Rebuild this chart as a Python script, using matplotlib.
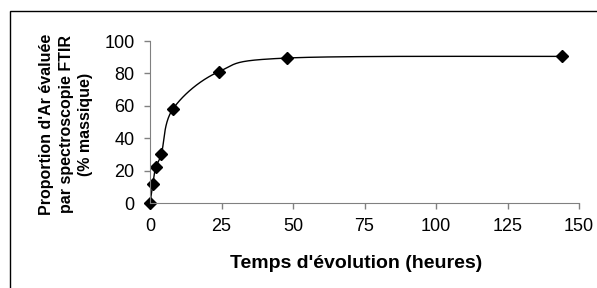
import numpy as np
import matplotlib
matplotlib.use("Agg")
import matplotlib.pyplot as plt
from matplotlib.patches import Rectangle

# temps d'évolution (heures) et proportion d'Ar (% massique)
temps = [0, 1, 2, 4, 8, 24, 48, 144]
proportion = [0, 12, 22, 30.5, 58, 81, 89.5, 90.5]

x_ticks = [0, 25, 50, 75, 100, 125, 150]
y_ticks = [0, 20, 40, 60, 80, 100]


def lissage(x, y, n=40):
    """Courbe lissée à la manière d'Excel (Bézier cubiques par segments)."""
    p = np.column_stack([x, y]).astype(float)
    pts = [p[0]]
    for i in range(len(p) - 1):
        p0 = p[i - 1] if i > 0 else p[i]
        p3 = p[i + 2] if i + 2 < len(p) else p[i + 1]
        c1 = p[i] + (p[i + 1] - p0) / 6
        c2 = p[i + 1] - (p3 - p[i]) / 6
        t = np.linspace(0, 1, n)[1:, None]
        seg = ((1 - t) ** 3 * p[i] + 3 * (1 - t) ** 2 * t * c1
               + 3 * (1 - t) * t ** 2 * c2 + t ** 3 * p[i + 1])
        pts.extend(seg)
    pts = np.array(pts)
    return pts[:, 0], pts[:, 1]


plt.rcParams['font.family'] = ['Liberation Sans', 'DejaVu Sans']

fig = plt.figure(figsize=(5.97, 2.88), dpi=100)
fig.patches.append(Rectangle((10 / 597, -0.1), 1.0, 1 - 11 / 288 + 0.1,
                             transform=fig.transFigure, fill=False,
                             edgecolor='black', linewidth=1.0))

ax = fig.add_axes([150 / 597, 1 - 203 / 288, 429 / 597, 162 / 288])

xs, ys = lissage(temps, proportion)
ax.plot(xs, ys, color='black', linewidth=1.0, clip_on=False)
ax.plot(temps, proportion, linestyle='none', marker='D', markersize=6,
        color='black', clip_on=False)

ax.set_xlim(0, 150)
ax.set_ylim(0, 100)
ax.set_xticks(x_ticks)
ax.set_yticks(y_ticks)
ax.tick_params(direction='out', length=4, width=1, color='#808080',
               labelsize=13, pad=7)
for s in ['top', 'right']:
    ax.spines[s].set_visible(False)
for s in ['left', 'bottom']:
    ax.spines[s].set_color('#808080')
ax.patch.set_visible(False)

fig.text(356 / 597, 1 - 263 / 288, "Temps d'évolution (heures)",
         ha='center', va='center', fontsize=14, fontweight='bold')
fig.text(66 / 597, 1 - 124 / 288,
         "Proportion d'Ar évaluée\npar spectroscopie FTIR\n(% massique)",
         ha='center', va='center', rotation=90, fontsize=11.5,
         fontweight='bold', linespacing=1.4, multialignment='center')

fig.savefig('out.png', dpi=100)
